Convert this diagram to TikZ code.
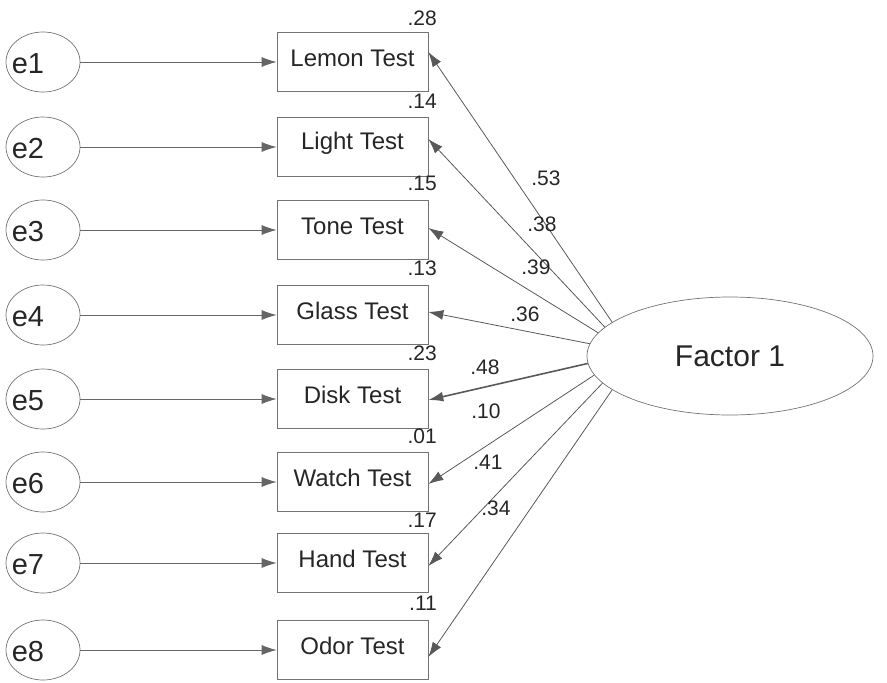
\documentclass[tikz,border=0pt]{standalone}
\usepackage{fontspec}
\setmainfont{Liberation Sans}
\usetikzlibrary{arrows.meta,shapes.geometric}
\newcommand\boxtxt[1]{\raisebox{4pt}[\height][\depth]{#1}}
\begin{document}
\begin{tikzpicture}[x=1pt,y=-1pt,
  errnode/.style={ellipse, draw=black!55, line width=0.7pt, minimum width=74pt, minimum height=60pt, inner sep=0pt},
  errlab/.style={font=\fontsize{29}{30}\selectfont, text=black!85, inner sep=0pt},
  obsbox/.style={rectangle, draw=black!55, line width=0.7pt, minimum width=151pt, minimum height=59pt, inner sep=0pt, font=\fontsize{24}{26}\selectfont, text=black!85},
  factor/.style={ellipse, draw=black!55, line width=0.7pt, minimum width=286pt, minimum height=118pt, inner sep=0pt, font=\fontsize{30}{32}\selectfont, text=black!85},
  num/.style={font=\fontsize{21}{22}\selectfont, text=black!85, inner sep=0pt},
  errarrow/.style={draw=black!60, line width=0.8pt, -{Latex[length=15pt,width=10pt]}},
  loadarrow/.style={draw=black!65, line width=0.8pt, -{Latex[length=15pt,width=10pt]}},
]
\useasboundingbox (0,0) rectangle (887,683);

\foreach \i/\y in {1/62,2/147,3/230,4/315,5/399,6/482,7/563,8/650}{
  \node[errnode] (c\i) at (43,\y) {};
  \node[errlab] (t\i) at (28,\y+2) {e\i};
}
\node[obsbox] (b1) at (352.5,62) {\boxtxt{Lemon Test}};
\node[obsbox] (b2) at (352.5,147) {\boxtxt{Light Test}};
\node[obsbox] (b3) at (352.5,230) {\boxtxt{Tone Test}};
\node[obsbox] (b4) at (352.5,315) {\boxtxt{Glass Test}};
\node[obsbox] (b5) at (352.5,399) {\boxtxt{Disk Test}};
\node[obsbox] (b6) at (352.5,482) {\boxtxt{Watch Test}};
\node[obsbox] (b7) at (352.5,563) {\boxtxt{Hand Test}};
\node[obsbox] (b8) at (352.5,650) {\boxtxt{Odor Test}};

\foreach \i in {1,...,8}{
  \draw[errarrow] (c\i.east) -- (b\i.west);
}

\node[factor] (F) at (730,356) {Factor 1};

\draw[loadarrow] (F.164) -- ([yshift=10pt]b1.east);
\draw[loadarrow] (F.167) -- ([yshift=8pt]b2.east);
\draw[loadarrow] (F.170) -- ([yshift=2pt]b3.east);
\draw[loadarrow] (F.175) -- ([yshift=3pt]b4.east);
\draw[loadarrow, line width=1.6pt] (F.183) -- ([yshift=-1pt]b5.east);
\draw[loadarrow] (F.188) -- ([yshift=-2pt]b6.east);
\draw[loadarrow] (F.192) -- ([yshift=-3pt]b7.east);
\draw[loadarrow] (F.196) -- ([yshift=-7pt]b8.east);

% squared multiple correlations
\node[num, anchor=east] (r1) at (437,18) {.28};
\node[num, anchor=east] (r2) at (437,101) {.14};
\node[num, anchor=east] (r3) at (437,183) {.15};
\node[num, anchor=east] (r4) at (437,268) {.13};
\node[num, anchor=east] (r5) at (437,353) {.23};
\node[num, anchor=east] (r6) at (437,436) {.01};
\node[num, anchor=east] (r7) at (437,520) {.17};
\node[num, anchor=east] (r8) at (437,603) {.11};

% loadings
\node[num] (l1) at (546,178) {.53};
\node[num] (l2) at (542,224) {.38};
\node[num] (l3) at (536,267) {.39};
\node[num] (l4) at (525,314) {.36};
\node[num] (l5) at (485,367) {.48};
\node[num] (l6) at (486,411) {.10};
\node[num] (l7) at (488,462) {.41};
\node[num] (l8) at (496,508) {.34};
\end{tikzpicture}
\end{document}
